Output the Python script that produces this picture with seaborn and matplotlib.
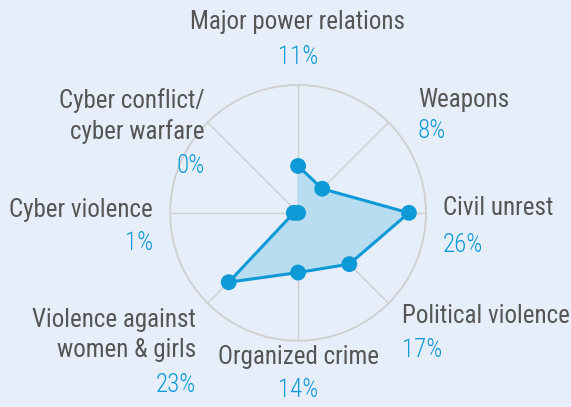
import numpy as np
import matplotlib
matplotlib.use("Agg")
import matplotlib.pyplot as plt
from matplotlib import font_manager as fm
import seaborn as sns

categories = ["Major power relations", "Weapons", "Civil unrest", "Political violence",
              "Organized crime", "Violence against\nwomen & girls", "Cyber violence",
              "Cyber conflict/\ncyber warfare"]
values = [11, 8, 26, 17, 14, 23, 1, 0]
rmax = 30

BG = "#e6eef9"
BLUE = "#0e9ad7"
GREY = "#555555"

sns.set_style("white")

# look for a narrow/condensed face; fall back to DejaVu Sans
FONT, STRETCH, FS = "DejaVu Sans", "normal", 14
fonts = fm.fontManager.ttflist
for f in fonts:
    if f.name in ("Liberation Sans Narrow", "Roboto Condensed", "Open Sans Condensed"):
        FONT, STRETCH, FS = f.name, "normal", 18
        break
else:
    for f in fonts:
        if f.stretch in ("condensed", "semi-condensed", 300, 400) and "Mono" not in f.name \
                and f.style == "normal" and "CJK" not in f.name:
            FONT, STRETCH, FS = f.name, f.stretch, 18
            break
plt.rcParams["font.family"] = [FONT, "DejaVu Sans"]

W, H = 571, 407
fig = plt.figure(figsize=(W / 100, H / 100), dpi=100, facecolor=BG)
ax = fig.add_axes([0.298, 0.1625, 0.448, 0.629], projection="polar")
ax.set_facecolor(BG)
ax.set_theta_offset(np.pi / 2)
ax.set_theta_direction(-1)

n = len(categories)
theta = np.linspace(0, 2 * np.pi, n, endpoint=False)
th = np.append(theta, theta[0])
rv = np.append(values, values[0])

ax.fill(th, rv, color="#b8dcf0", zorder=2)
sns.lineplot(x=th, y=rv, sort=False, ax=ax, color=BLUE, lw=2.2, zorder=3)
sns.scatterplot(x=theta, y=values, ax=ax, color=BLUE, s=130, edgecolor="none", zorder=4)

ax.set_ylim(0, rmax)
ax.set_yticks([])
ax.set_xticks(theta)
ax.set_xticklabels([])
ax.xaxis.grid(True, color="#cfcfcf", lw=1)
ax.yaxis.grid(False)
ax.spines["polar"].set_color("#cfcfcf")
ax.spines["polar"].set_linewidth(1.3)
ax.set_xlabel(""); ax.set_ylabel("")

# label anchors in pixel coords: (x, y_name, y_pct, ha)
pos = [(298, 22, 57, "center"),
       (418, 100, 131, "left"),
       (443, 208, 245, "left"),
       (402, 316, 350, "left"),
       (298, 357, 390, "center"),
       (196, 335, 385, "right"),
       (153, 210, 243, "right"),
       (205, 116, 166, "right")]
for cat, v, (x, yn, yp, ha) in zip(categories, values, pos):
    fig.text(x / W, 1 - yn / H, cat, ha=ha, va="center", fontsize=FS, color=GREY,
             linespacing=1.3, fontstretch=STRETCH)
    fig.text(x / W, 1 - yp / H, f"{v}%", ha=ha, va="center", fontsize=FS, color=BLUE,
             fontstretch=STRETCH, fontweight="light")

fig.savefig("out.png", dpi=100, facecolor=BG)
